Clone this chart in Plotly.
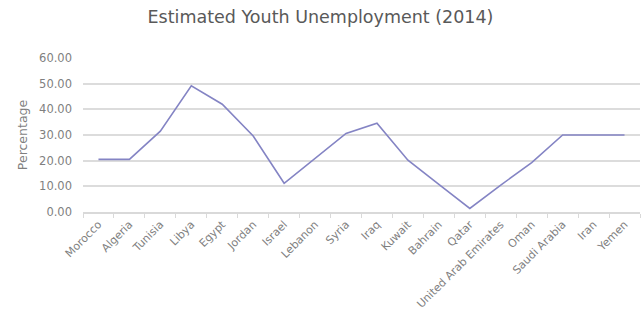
import plotly.graph_objects as go

countries = ["Morocco", "Algeria", "Tunisia", "Libya", "Egypt", "Jordan", "Israel",
             "Lebanon", "Syria", "Iraq", "Kuwait", "Bahrain", "Qatar",
             "United Arab Emirates", "Oman", "Saudi Arabia", "Iran", "Yemen"]
unemployment = [20.5, 20.5, 31.5, 49.2, 42.0, 29.6, 11.2, 21.0, 30.6, 34.6,
                20.2, 10.8, 1.4, 10.5, 19.2, 30.0, 30.0, 30.0]
y_ticks = [0, 10, 20, 30, 40, 50, 60]

fig = go.Figure()
fig.add_trace(go.Scatter(
    x=countries, y=unemployment, mode="lines",
    line=dict(color="#8484c4", width=1.6),
    showlegend=False,
))

font = "DejaVu Sans, Verdana, sans-serif"
fig.update_layout(
    width=641, height=325,
    margin=dict(l=83, r=1, t=58, b=113),
    paper_bgcolor="white", plot_bgcolor="white",
    title=dict(text="Estimated Youth Unemployment (2014)", x=0.5, xanchor="center",
               y=0.947, yanchor="middle",
               font=dict(family=font, size=17.5, color="#595959")),
    font=dict(family=font, color="#7f7f7f"),
)
fig.update_xaxes(
    type="category", range=[-0.5, 17.5], automargin=False,
    tickangle=-45, tickfont=dict(size=11, color="#7f7f7f"),
    showline=True, linecolor="#d9d9d9", linewidth=1.5,
    ticks="outside", tickson="boundaries", ticklen=4, tickcolor="#d9d9d9",
    showgrid=False,
)
fig.update_yaxes(
    range=[0, 60], tickvals=y_ticks, tickformat=".2f", automargin=False,
    tickfont=dict(size=11.5, color="#7f7f7f"),
    ticklabelstandoff=10,
    showgrid=True, gridcolor="#dcdcdc", gridwidth=1.8,
    zeroline=False, showline=False,
    title=dict(text="Percentage", font=dict(size=12.5, color="#7f7f7f"), standoff=8),
)

fig.write_html("out.html")
